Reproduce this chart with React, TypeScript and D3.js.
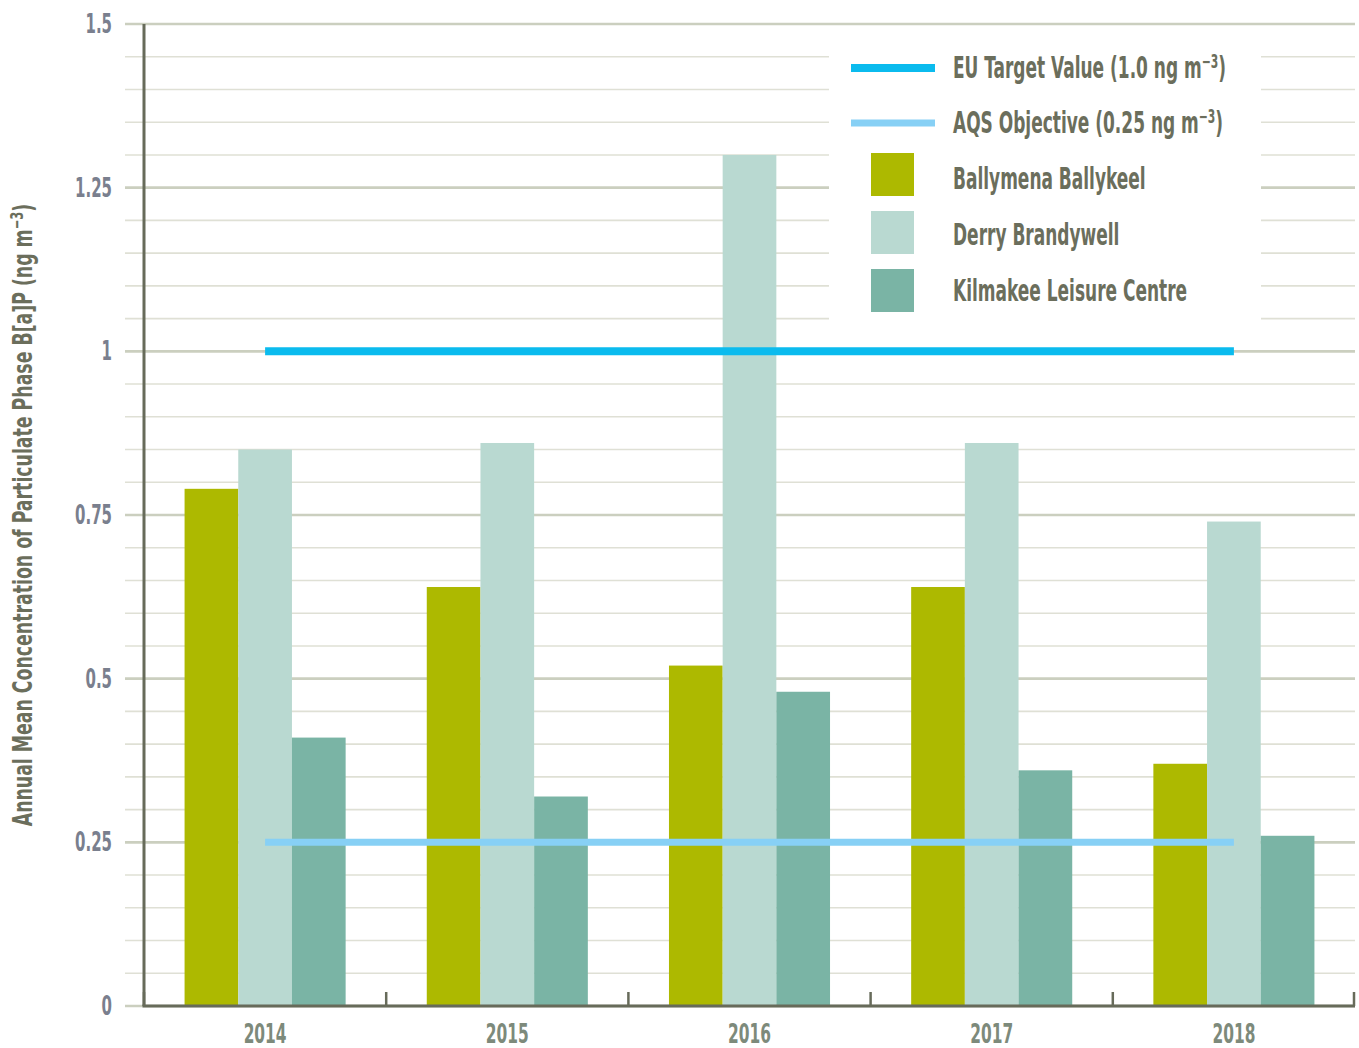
import React from "react";
import * as d3 from "d3";

const years = ["2014", "2015", "2016", "2017", "2018"];
const seriesNames = ["Ballymena Ballykeel", "Derry Brandywell", "Kilmakee Leisure Centre"];
const ballymena = [0.79, 0.64, 0.52, 0.64, 0.37];
const derry = [0.85, 0.86, 1.3, 0.86, 0.74];
const kilmakee = [0.41, 0.32, 0.48, 0.36, 0.26];
const euTarget = [1.0, 1.0, 1.0, 1.0, 1.0];
const aqsObjective = [0.25, 0.25, 0.25, 0.25, 0.25];
const yTicks = [0, 0.25, 0.5, 0.75, 1, 1.25, 1.5];
const yTickLabels = ["0", "0.25", "0.5", "0.75", "1", "1.25", "1.5"];

const seriesColors = ["#adb900", "#b9d9d1", "#7ab4a5"];
const euColor = "#0bbbee";
const aqsColor = "#87d0f5";
const axisColor = "#676b5a";
const textColor = "#6b6e5c";
const FONT = "'DejaVu Sans Condensed', 'Liberation Sans Narrow', sans-serif";

const W = 1359;
const H = 1048;
const left = 144;
const right = 1355;
const top = 24;
const bottom = 1006;

function CText({ x, y, size, sx = 0.63, anchor = "start", fill, children }: any) {
  return (
    <g transform={`translate(${x},${y}) scale(${sx},1)`}>
      <text x={0} y={0} fontFamily={FONT} fontWeight="bold" fontSize={size} fill={fill} textAnchor={anchor}>
        {children}
      </text>
    </g>
  );
}

export default function App() {
  const x0 = d3.scaleBand<string>().domain(years).range([left, right]).paddingInner(0.335).paddingOuter(0.1675);
  const x1 = d3.scaleBand<string>().domain(seriesNames).range([0, x0.bandwidth()]).padding(0);
  const y = d3.scaleLinear().domain([0, 1.5]).range([bottom, top]);
  const step = x0.step();
  const center = (yr: string) => (x0(yr) as number) + x0.bandwidth() / 2;

  const minorTicks = d3.range(0, 31).map((i) => i * 0.05).filter((v) => Math.abs((v / 0.25) - Math.round(v / 0.25)) > 1e-6);
  const seriesData = [ballymena, derry, kilmakee];
  const lineGen = d3.line<number>().x((_, i) => center(years[i])).y((d) => y(d));

  const boundaries = d3.range(0, years.length + 1).map((i) => left + i * step);

  return (
    <svg width={W} height={H} style={{ position: "absolute", left: 0, top: 0, background: "#fff" }}>
      <rect x={0} y={0} width={W} height={H} fill="#fff" />
      {/* gridlines */}
      {minorTicks.map((t) => (
        <line key={"m" + t} x1={125} x2={right} y1={y(t)} y2={y(t)} stroke="#dfe0d5" strokeWidth={1.6} />
      ))}
      {yTicks.map((t) => (
        <line key={"M" + t} x1={125} x2={right} y1={y(t)} y2={y(t)} stroke="#cbcfbf" strokeWidth={2.6} />
      ))}
      {/* legend background */}
      <rect x={829} y={42} width={432} height={286} fill="#fff" />
      {/* bars */}
      {years.map((yr, i) => (
        <g key={yr} transform={`translate(${x0(yr)},0)`}>
          {seriesNames.map((s, j) => (
            <rect
              key={s}
              x={x1(s)}
              y={y(seriesData[j][i])}
              width={x1.bandwidth()}
              height={bottom - y(seriesData[j][i])}
              fill={seriesColors[j]}
            />
          ))}
        </g>
      ))}
      {/* reference lines */}
      <path d={lineGen(aqsObjective) as string} stroke={aqsColor} strokeWidth={7} fill="none" />
      <path d={lineGen(euTarget) as string} stroke={euColor} strokeWidth={8} fill="none" />
      {/* axes */}
      <line x1={left} x2={left} y1={top} y2={bottom} stroke={axisColor} strokeWidth={3} />
      <line x1={left - 1.5} x2={right} y1={bottom} y2={bottom} stroke={axisColor} strokeWidth={3} />
      {boundaries.map((b, i) => (
        <line key={"t" + i} x1={i === boundaries.length - 1 ? b - 1 : b} x2={i === boundaries.length - 1 ? b - 1 : b} y1={bottom} y2={bottom - 14} stroke={axisColor} strokeWidth={2.5} />
      ))}
      {/* y tick labels */}
      {yTicks.map((t, i) => (
        <CText key={"yl" + t} x={112} y={y(t) + 9} size={26} sx={0.64} anchor="end" fill="#7a7f8e">
          {yTickLabels[i]}
        </CText>
      ))}
      {/* x labels */}
      {years.map((yr) => (
        <CText key={"xl" + yr} x={center(yr)} y={1043} size={26} sx={0.66} anchor="middle" fill="#7d8a7b">
          {yr}
        </CText>
      ))}
      {/* y axis title */}
      <g transform={`translate(32,515) rotate(-90) scale(0.714,1)`}>
        <text x={0} y={0} fontFamily={FONT} fontWeight="bold" fontSize={27} fill={textColor} textAnchor="middle">
          Annual Mean Concentration of Particulate Phase B[a]P (ng m
          <tspan dy={-9} fontSize={18}>−3</tspan>
          <tspan dy={9}>)</tspan>
        </text>
      </g>
      {/* legend */}
      <line x1={851} x2={935} y1={68} y2={68} stroke={euColor} strokeWidth={8} />
      <line x1={851} x2={935} y1={123} y2={123} stroke={aqsColor} strokeWidth={7} />
      {seriesNames.map((s, j) => (
        <rect key={"sw" + s} x={871} y={153 + j * 58} width={43} height={43} fill={seriesColors[j]} />
      ))}
      <CText x={953} y={78} size={30} fill={textColor}>
        EU Target Value (1.0 ng m<tspan dy={-10} fontSize={19}>−3</tspan><tspan dy={10}>)</tspan>
      </CText>
      <CText x={953} y={133} size={30} fill={textColor}>
        AQS Objective (0.25 ng m<tspan dy={-10} fontSize={19}>−3</tspan><tspan dy={10}>)</tspan>
      </CText>
      {seriesNames.map((s, j) => (
        <CText key={"lt" + s} x={953} y={189 + j * 56} size={30} fill={textColor}>
          {s}
        </CText>
      ))}
    </svg>
  );
}
